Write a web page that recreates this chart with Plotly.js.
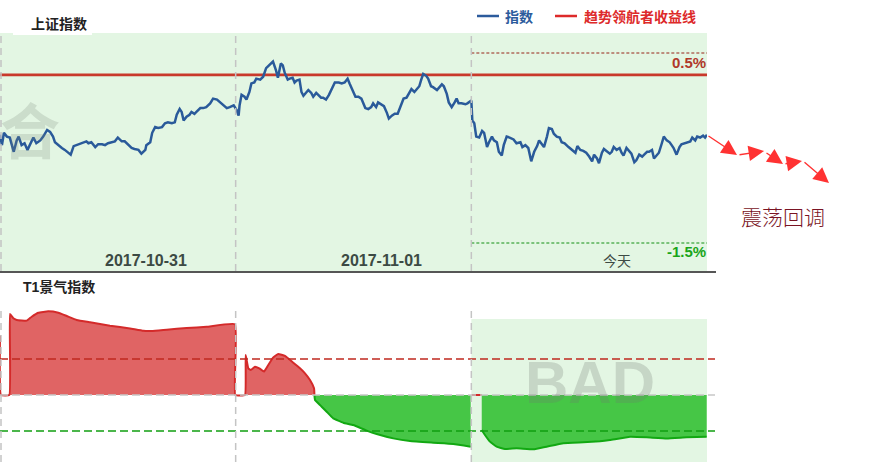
<!DOCTYPE html>
<html>
<head>
<meta charset="utf-8">
<script src="https://cdn.plot.ly/plotly-3.0.1.min.js"></script>
<style>html,body{margin:0;padding:0;background:#fff;}#chart{width:873px;height:462px;}</style>
</head>
<body>
<div id="chart"></div>
<script>
// ---- Index (% change vs. previous close), minute offsets over three trading days (240 min each)
const day1Time = [0,2,4,7,10,14,17,19,22,25,28,31,34,37,41,44,48,51,54,56,59,63,66,70,72,75,78,81,85,88,90,93,97,100,104,107,110,114,117,120,124,127,131,134,137,141,144,148,149,153,155,158,161,165,168,171,175,178,180,183,185,187,190,193,195,198,200,204,207,210,214,217,221,224,227,231,234,238];
const day1Pct = [-0.36,-0.47,-0.34,-0.38,-0.39,-0.54,-0.42,-0.38,-0.47,-0.45,-0.52,-0.45,-0.39,-0.45,-0.42,-0.38,-0.31,-0.33,-0.38,-0.44,-0.47,-0.50,-0.52,-0.55,-0.57,-0.48,-0.47,-0.46,-0.44,-0.43,-0.45,-0.44,-0.49,-0.46,-0.46,-0.47,-0.45,-0.44,-0.43,-0.39,-0.43,-0.43,-0.47,-0.50,-0.51,-0.52,-0.56,-0.52,-0.47,-0.44,-0.34,-0.28,-0.29,-0.28,-0.24,-0.23,-0.24,-0.23,-0.15,-0.09,-0.12,-0.21,-0.17,-0.15,-0.12,-0.14,-0.12,-0.08,-0.08,-0.07,-0.03,0.02,0.01,-0.02,-0.05,-0.08,-0.07,-0.05];
const day2Time = [241,243,244,246,249,251,254,256,259,261,265,268,271,273,276,278,281,283,286,288,290,293,295,298,300,302,305,307,309,311,314,317,319,322,324,327,329,332,335,338,341,345,348,351,354,356,360,362,365,368,370,372,375,378,380,383,385,389,391,394,396,399,402,405,407,411,414,417,419,422,424,427,429,431,434,436,439,441,445,447,450,452,455,457,460,463,465,467,470,474,476,480];
const day2Pct = [-0.10,-0.16,-0.05,0.06,0.04,0.01,0.09,0.18,0.19,0.23,0.22,0.25,0.34,0.36,0.38,0.41,0.32,0.24,0.39,0.37,0.29,0.22,0.23,0.24,0.19,0.21,0.22,0.09,0.05,0.07,0.11,0.08,0.04,0.08,0.06,0.03,0.03,0.01,0.06,0.13,0.19,0.19,0.18,0.19,0.23,0.18,0.09,0.04,0.04,0.02,-0.03,-0.08,-0.09,-0.07,-0.03,-0.07,-0.02,-0.05,-0.06,-0.13,-0.19,-0.16,-0.14,-0.14,-0.08,0.02,0.03,0.08,0.12,0.09,0.11,0.15,0.22,0.28,0.26,0.23,0.15,0.14,0.11,0.13,0.17,0.15,0.07,-0.02,-0.07,-0.02,0.02,-0.03,-0.03,-0.04,-0.03,0.00];
const day3Time = [481,483,485,488,491,493,496,498,501,503,506,508,511,513,516,519,523,526,530,532,535,538,541,544,547,549,552,554,557,559,562,564,567,570,572,575,579,582,586,588,591,594,597,600,603,605,608,610,613,615,618,621,623,625,628,631,633,635,638,641,643,646,648,651,654,656,659,661,664,666,669,671,674,676,679,682,684,686,689,692,694,698,700,703,705,708,710,713,716,718,720];
const day3Pct = [-0.21,-0.24,-0.38,-0.39,-0.32,-0.34,-0.49,-0.44,-0.38,-0.42,-0.44,-0.54,-0.58,-0.47,-0.38,-0.39,-0.41,-0.45,-0.44,-0.49,-0.47,-0.50,-0.64,-0.54,-0.48,-0.42,-0.46,-0.49,-0.38,-0.29,-0.30,-0.35,-0.38,-0.39,-0.44,-0.45,-0.49,-0.52,-0.55,-0.48,-0.52,-0.53,-0.55,-0.59,-0.64,-0.57,-0.61,-0.66,-0.55,-0.51,-0.54,-0.56,-0.54,-0.49,-0.52,-0.50,-0.55,-0.58,-0.50,-0.54,-0.56,-0.65,-0.63,-0.57,-0.59,-0.57,-0.54,-0.54,-0.52,-0.61,-0.57,-0.55,-0.45,-0.38,-0.42,-0.44,-0.47,-0.50,-0.57,-0.49,-0.46,-0.45,-0.44,-0.43,-0.39,-0.42,-0.38,-0.39,-0.37,-0.39,-0.36];

const trendLine = 0.27;     // 趋势领航者收益线
const upperBand = 0.5;      // 0.5%
const lowerBand = -1.5;     // -1.5%
const dayStarts = [0, 240, 480];
const dayLabels = ['2017-10-31', '2017-11-01', '今天'];

// ---- T1景气指数
const t1RedTime = [0,1,9.5,10.2,13.6,17,27.2,32.3,39,49.2,59.4,67.9,78.1,91.7,112,132.4,146,154.5,169.8,190.1,210.5,239.3,239.6,249.5,250.2,252.9,255.3,259.7,264.1,268.9,273.2,278.3,283.4,290.2,298.7,305.5,310.6,315.7,319.8,320.2];
const t1RedValue = [33,0,0,45,42.6,41.7,41.3,43.5,45.7,46.5,45.7,43.9,41.7,40.4,38.5,37.0,35.7,35.6,36.3,37.2,37.9,39.3,0,0,22.2,14.8,13.9,15.7,14.8,13.0,16.7,20.9,22.8,21.7,17.9,14.8,12.0,8.3,3.7,0];
const t1GreenTime = [320.2,320.8,325.9,327.6,332.7,339.4,349.6,359.8,373.4,383.6,400.5,417.5,441.2,461.6,479.4];
const t1GreenValue = [0,-2.8,-5.6,-6.5,-9.3,-13.0,-15.4,-16.7,-19.8,-21.7,-24.1,-25.6,-26.5,-27.2,-28.7];
const t1Red3Time = [480.4, 490.6];
const t1Red3Value = [0, 0];
const t1Green3Time = [490.6,493.9,499,505.8,514.3,526.2,543.1,556.7,573.7,594,611,621.2,641.6,658.6,679,699.3,719.7];
const t1Green3Value = [-19.4,-22.2,-25.9,-28.7,-30,-29.6,-30.2,-28.7,-26.8,-26.3,-25.7,-25,-23.2,-23.5,-24.1,-23.5,-23.2];
const t1Upper = 20;
const t1Lower = -20;

// ---- geometry helpers (page is 873x462)
const W = 873, H = 462;
const px = v => v / W;
const py = v => 1 - v / H;

const FONT = 'Liberation Sans, "Noto Sans CJK SC", sans-serif';
const CJK = '"Noto Sans CJK SC", sans-serif';
const RED_FILL = '#e06464', RED_LINE = '#d42a2a';
const GREEN_FILL = '#46c646', GREEN_LINE = '#12a812';

const traces = [
  {x: [0, 720], y: [trendLine, trendLine], mode: 'lines', line: {color: '#c9392b', width: 2.8}, xaxis: 'x', yaxis: 'y', hoverinfo: 'skip'},
  {x: day1Time.concat(day2Time, day3Time), y: day1Pct.concat(day2Pct, day3Pct), mode: 'lines',
   line: {color: '#2a5a9a', width: 2.5}, xaxis: 'x', yaxis: 'y'},
  {x: t1RedTime, y: t1RedValue, mode: 'lines', fill: 'tozeroy', fillcolor: RED_FILL, line: {color: RED_LINE, width: 2, shape: 'spline', smoothing: 0.3}, xaxis: 'x', yaxis: 'y2'},
  {x: t1GreenTime, y: t1GreenValue, mode: 'lines', fill: 'tozeroy', fillcolor: GREEN_FILL, line: {color: GREEN_LINE, width: 2, shape: 'spline', smoothing: 0.3}, xaxis: 'x', yaxis: 'y2'},
  {x: t1Red3Time, y: t1Red3Value, mode: 'lines', line: {color: RED_LINE, width: 2}, xaxis: 'x', yaxis: 'y2'},
  {x: t1Green3Time, y: t1Green3Value, mode: 'lines', fill: 'tozeroy', fillcolor: GREEN_FILL, line: {color: GREEN_LINE, width: 2, shape: 'spline', smoothing: 0.3}, xaxis: 'x', yaxis: 'y2'}
];

const shapes = [
  // backgrounds
  {type: 'rect', xref: 'paper', yref: 'paper', x0: 0, x1: px(707), y0: py(271), y1: py(33), fillcolor: '#e3f6e3', line: {width: 0}, layer: 'below'},
  {type: 'rect', xref: 'paper', yref: 'paper', x0: px(13), x1: px(92), y0: py(35), y1: py(33), fillcolor: '#ffffff', line: {width: 0}, layer: 'below'},
  {type: 'rect', xref: 'x', yref: 'paper', x0: dayStarts[2], x1: 720, y0: 0, y1: py(319), fillcolor: '#e3f6e3', line: {width: 0}, layer: 'below'},
  // top dashed bands (today)
  {type: 'line', xref: 'x', yref: 'y', x0: dayStarts[2], x1: 720, y0: upperBand, y1: upperBand, line: {color: '#962418', width: 1, dash: '3px,2px'}},
  {type: 'line', xref: 'x', yref: 'y', x0: dayStarts[2], x1: 720, y0: lowerBand, y1: lowerBand, line: {color: '#138f13', width: 1, dash: '3px,2px'}},
  // bottom thresholds
  {type: 'line', xref: 'paper', yref: 'y2', x0: 0, x1: px(715), y0: 0, y1: 0, line: {color: '#c8c8c8', width: 1.5, dash: '8px,4px'}},
  {type: 'line', xref: 'paper', yref: 'y2', x0: 0, x1: px(715), y0: t1Upper, y1: t1Upper, line: {color: '#c0281f', width: 1.5, dash: '8px,4px'}},
  {type: 'line', xref: 'paper', yref: 'y2', x0: 0, x1: px(715), y0: t1Lower, y1: t1Lower, line: {color: '#119f11', width: 1.5, dash: '8px,4px'}},
  // separator
  {type: 'line', xref: 'paper', yref: 'paper', x0: 0, x1: px(716), y0: py(272), y1: py(272), line: {color: '#1e1e1e', width: 1.5}},
  // legend swatches
  {type: 'line', xref: 'paper', yref: 'paper', x0: px(477), x1: px(499), y0: py(16), y1: py(16), line: {color: '#2c5b9c', width: 2.5}},
  {type: 'line', xref: 'paper', yref: 'paper', x0: px(555), x1: px(577), y0: py(16), y1: py(16), line: {color: '#dd2a2a', width: 2.5}}
];
// day separators (dashed gray), top and bottom panels
dayStarts.forEach(d => {
  const xx = d === 0 ? px(1) : null;
  const base = {xref: xx === null ? 'x' : 'paper', x0: xx === null ? d : xx, x1: xx === null ? d : xx, type: 'line', line: {color: '#c4c4c4', width: 1.5, dash: '7px,5px'}};
  shapes.push(Object.assign({}, base, {yref: 'paper', y0: py(271), y1: py(33)}));
  shapes.push(Object.assign({}, base, {yref: 'paper', y0: 0, y1: py(308)}));
});

const annotations = [
  {text: '上证指数', xref: 'paper', yref: 'paper', x: px(29), y: py(23), xanchor: 'left', yanchor: 'middle', showarrow: false, font: {family: CJK, size: 14, color: '#222', weight: 'bold'}},
  {text: 'T1景气指数', xref: 'paper', yref: 'paper', x: px(21), y: py(287), xanchor: 'left', yanchor: 'middle', showarrow: false, font: {family: FONT, size: 14, color: '#222', weight: 'bold'}},
  {text: '指数', xref: 'paper', yref: 'paper', x: px(503), y: py(16), xanchor: 'left', yanchor: 'middle', showarrow: false, font: {family: CJK, size: 14, color: '#2c5b9c', weight: 'bold'}},
  {text: '趋势领航者收益线', xref: 'paper', yref: 'paper', x: px(582), y: py(16), xanchor: 'left', yanchor: 'middle', showarrow: false, font: {family: CJK, size: 14, color: '#dd2a2a', weight: 'bold'}},
  {text: '0.5%', xref: 'paper', yref: 'paper', x: px(708), y: py(62), xanchor: 'right', yanchor: 'middle', showarrow: false, font: {family: FONT, size: 15, color: '#b0382a', weight: 'bold'}},
  {text: '-1.5%', xref: 'paper', yref: 'paper', x: px(708), y: py(251), xanchor: 'right', yanchor: 'middle', showarrow: false, font: {family: FONT, size: 15, color: '#1aa51a', weight: 'bold'}},
  {text: '震荡回调', xref: 'paper', yref: 'paper', x: px(783), y: py(216), xanchor: 'center', yanchor: 'middle', showarrow: false, font: {family: CJK, size: 21, color: '#7a1424', weight: 300}},
  {text: '合', xref: 'paper', yref: 'paper', x: px(30), y: py(128), xanchor: 'center', yanchor: 'middle', showarrow: false, font: {family: CJK, size: 60, color: 'rgba(120,130,120,0.22)', weight: 'bold'}},
  {text: 'BAD', xref: 'paper', yref: 'paper', x: px(590), y: py(382), xanchor: 'center', yanchor: 'middle', showarrow: false, font: {family: FONT, size: 60, color: 'rgba(110,120,110,0.25)', weight: 'bold'}}
];
dayLabels.forEach((lab, i) => {
  const isToday = i === dayLabels.length - 1;
  annotations.push({text: lab, xref: 'x', yref: 'paper', x: dayStarts[i] + 120, xshift: 28, y: py(260), xanchor: 'center', yanchor: 'middle', showarrow: false,
    font: {family: isToday ? CJK : FONT, size: isToday ? 14 : 16, color: '#3c4a44', weight: isToday ? 'normal' : 'bold'}});
});
// red trend arrows
const arrows = [[707,135,737,155],[738,155,764,151],[765,152,783,164],[784,164,802,161],[803,161,829,183]];
arrows.forEach(a => {
  annotations.push({text: '', xref: 'paper', yref: 'paper', x: px(a[2]), y: py(a[3]), ax: a[0] - a[2], ay: a[1] - a[3],
    showarrow: true, arrowhead: 2, arrowsize: 2.2, arrowwidth: 1.4, arrowcolor: '#ff3232', standoff: 0, startstandoff: 0});
});

const layout = {
  width: W, height: H,
  margin: {l: 0, r: 0, t: 0, b: 0},
  paper_bgcolor: '#ffffff', plot_bgcolor: 'rgba(0,0,0,0)',
  showlegend: false,
  xaxis: {domain: [0, px(707)], range: [0, 720], visible: false, fixedrange: true},
  yaxis: {domain: [py(271), py(33)], range: [-1.7947, 0.7105], visible: false, fixedrange: true},
  yaxis2: {domain: [0, py(305)], range: [-37.22, 50], visible: false, fixedrange: true},
  shapes: shapes,
  annotations: annotations
};

Plotly.newPlot('chart', traces, layout, {staticPlot: true, displayModeBar: false});
</script>
</body>
</html>
